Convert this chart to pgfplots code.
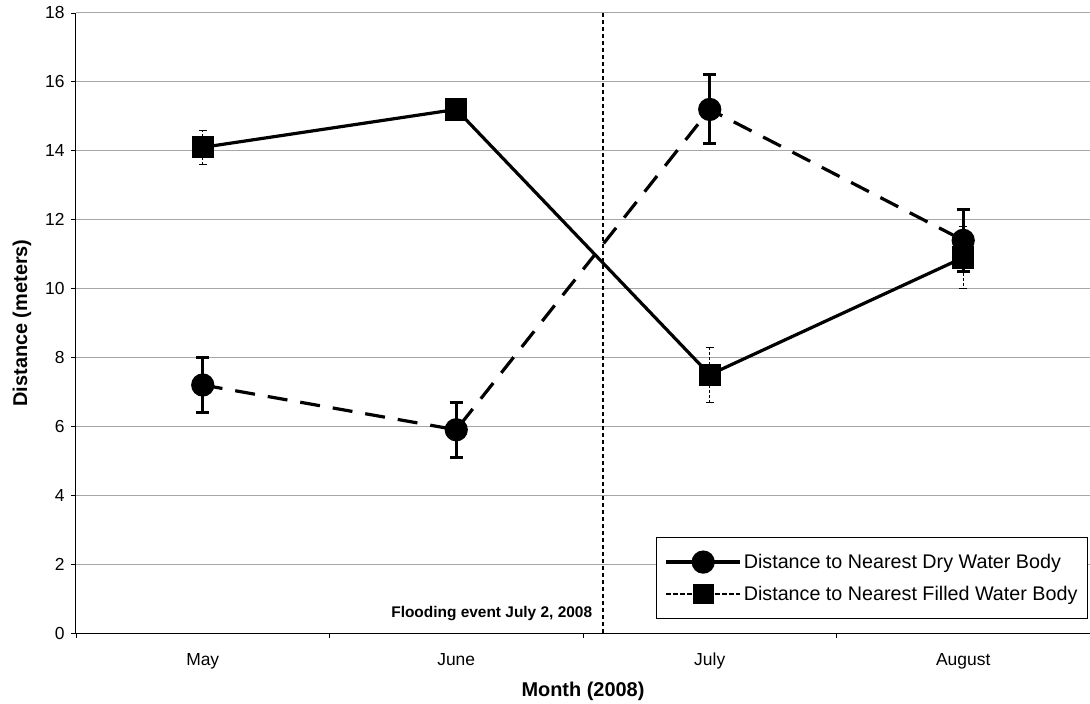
\documentclass[border=0pt]{standalone}
\usepackage{fontspec}
\setmainfont{Liberation Sans}
\usepackage{pgfplots}
\pgfplotsset{compat=1.18}
\begin{document}
\begin{tikzpicture}
\useasboundingbox (-76bp,-71bp) rectangle (1014bp,633bp);
\begin{axis}[
  scale only axis, width=1014bp, height=620bp,
  xmin=-0.5, xmax=3.5, ymin=0, ymax=18,
  xtick={-0.5,0.5,1.5,2.5,3.5},
  x tick label as interval,
  xticklabels={May,June,July,August},
  ytick={0,2,...,18},
  axis x line=bottom, axis y line=left,
  x axis line style={-, line width=1bp},
  y axis line style={-, line width=1bp},
  tick align=outside, major tick length=5bp,
  tick style={black, line width=0.8bp},
  ymajorgrids, grid style={gray!70, line width=1bp},
  /pgf/number format/assume math mode=true,
  ticklabel style={font=\fontsize{17.5}{19}\selectfont},
  xticklabel style={text height=12.5bp, text depth=4bp, yshift=-11bp},
  yticklabel style={xshift=-3bp},
  xlabel={\textbf{Month (2008)}},
  ylabel={\textbf{Distance (meters)}},
  label style={font=\fontsize{20}{22}\selectfont},
  xlabel style={at={(rel axis cs:0.5,0)}, anchor=center, yshift=-58bp},
  ylabel style={at={(rel axis cs:0,0.5)}, anchor=center, yshift=54bp},
  legend style={at={(rel axis cs:0.998,0.022)}, anchor=south east,
    font=\fontsize{19.8}{22}\selectfont, draw=black, line width=1bp,
    fill=white, row sep=12bp, inner xsep=8bp, inner ysep=15bp},
  legend cell align=left,
  legend image code/.code={
    \draw[#1, mark repeat=2, mark phase=2] plot coordinates {(0bp,0bp)(37bp,0bp)(74bp,0bp)};
  },
]
\addplot[black, line width=3.2bp, dash pattern=on 20bp off 13bp,
  mark=*, mark size=10bp, mark options={solid},
  legend image post style={solid},
  error bars/.cd, y dir=both, y explicit,
  error bar style={solid, line width=3bp},
  error mark options={rotate=90, mark size=6.5bp, line width=3bp, solid}]
  coordinates {(0,7.2) +- (0,0.8) (1,5.9) +- (0,0.8) (2,15.2) +- (0,1.0) (3,11.4) +- (0,0.9)};
\addlegendentry{Distance to Nearest Dry Water Body}
\addplot[black, line width=3.2bp,
  mark=square*, mark size=9.5bp, mark options={solid},
  legend image post style={line width=1.6bp, dash pattern=on 5bp off 2bp},
  error bars/.cd, y dir=both, y explicit,
  error bar style={line width=1bp, dash pattern=on 3bp off 2bp},
  error mark options={rotate=90, mark size=4bp, line width=1.2bp, solid}]
  coordinates {(0,14.1) +- (0,0.5) (1,15.2) +- (0,0.05) (2,7.5) +- (0,0.8) (3,10.9) +- (0,0.9)};
\addlegendentry{Distance to Nearest Filled Water Body}
\addplot[black, line width=2.2bp, dash pattern=on 4bp off 3bp, forget plot]
  coordinates {(1.58,0) (1.58,18)};
\node[anchor=base east, font=\bfseries\fontsize{15.5}{17}\selectfont]
  at (axis cs:1.55,0.45) {Flooding event July 2, 2008};
\end{axis}
\end{tikzpicture}
\end{document}
